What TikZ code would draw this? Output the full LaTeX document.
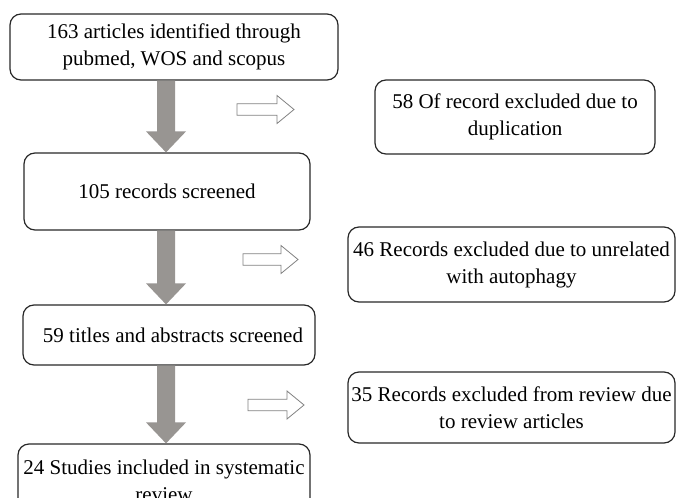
\documentclass[tikz,border=0pt]{standalone}
\usepackage{fontspec}
\setmainfont{Liberation Serif}
\usetikzlibrary{calc}
\definecolor{arrowgray}{RGB}{152,149,146}
\definecolor{hollowgray}{RGB}{130,130,130}
\definecolor{boxline}{RGB}{40,40,40}
\tikzset{
  box/.style={draw=boxline, line width=1.2pt, rounded corners=11pt, inner sep=0pt, align=center,
    font=\fontsize{21pt}{27pt}\selectfont},
  bigarrow/.style={fill=arrowgray, to path={let \p1=(\tikztostart), \p2=(\tikztotarget) in
    (\x1-9pt,\y1) -- (\x1-9pt,\y2+21pt) -- (\x1-20pt,\y2+21pt) -- (\x1,\y2) -- (\x1+20pt,\y2+21pt) -- (\x1+9pt,\y2+21pt) -- (\x1+9pt,\y1) -- cycle}},
  hollowarrow/.style={draw=hollowgray, fill=white, line width=0.8pt, to path={let \p1=(\tikztostart), \p2=(\tikztotarget) in
    (\x1,\y1+5.7pt) -- (\x2-17pt,\y1+5.7pt) -- (\x2-17pt,\y1+14pt) -- (\x2,\y1) -- (\x2-17pt,\y1-14pt) -- (\x2-17pt,\y1-5.7pt) -- (\x1,\y1-5.7pt) -- cycle}}
}
\begin{document}
\begin{tikzpicture}[x=1pt,y=-1pt]
\useasboundingbox (0,0) rectangle (676,497);
\clip (0,0) rectangle (676,497);
\fill[white] (0,0) rectangle (676,497);
% main column
\node[box, minimum width=328pt, minimum height=66pt] (b1) at (174,47) {163 articles identified through\\pubmed, WOS and scopus};
\node[box, minimum width=286pt, minimum height=77pt] (b2) at (167,191.5) {105 records screened};
\node[box, minimum width=292pt, minimum height=60pt] (b3) at (169,335) {\hspace*{8pt}59 titles and abstracts screened};
\node[box, minimum width=292pt, minimum height=74pt] (b4) at (164,481) {24 Studies included in systematic\\review};
% exclusion boxes
\node[box, minimum width=280pt, minimum height=74pt] (e1) at (515,117) {58 Of record excluded due to\\duplication};
\node[box, minimum width=327pt, minimum height=75pt] (e2) at (511.5,264.5) {46 Records excluded due to unrelated\\with autophagy};
\node[box, minimum width=327pt, minimum height=71pt] (e3) at (511.5,407.5) {35 Records excluded from review due\\to review articles};
% big arrows
\coordinate (ax) at (166,0);
\path[bigarrow] (b1.south -| ax) to (b2.north -| ax);
\path[bigarrow] (b2.south -| ax) to (b3.north -| ax);
\path[bigarrow] (b3.south -| ax) to (b4.north -| ax);
% hollow arrows
\coordinate (h1s) at (237,109.5);
\coordinate (h1e) at (294,109.5);
\coordinate (h2s) at (243,259.5);
\coordinate (h2e) at (298,259.5);
\coordinate (h3s) at (248,405);
\coordinate (h3e) at (304,405);
\path[hollowarrow] (h1s) to (h1e);
\path[hollowarrow] (h2s) to (h2e);
\path[hollowarrow] (h3s) to (h3e);
\end{tikzpicture}
\end{document}
